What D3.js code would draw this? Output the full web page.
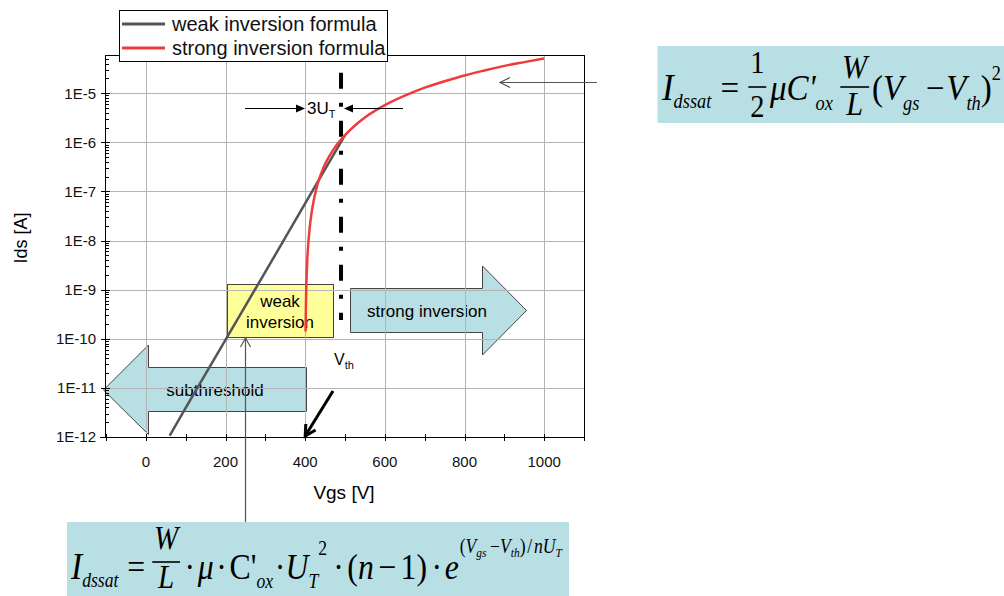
<!DOCTYPE html>
<html>
<head>
<meta charset="utf-8">
<script src="https://cdn.jsdelivr.net/npm/d3@7"></script>
<style>
  body { margin: 0; background: #fff; }
  svg { display: block; }
</style>
</head>
<body>
<svg id="chart" width="1004" height="596"></svg>
<script>
// ---- data -------------------------------------------------------------
// weak inversion (exponential) drain current
const weakVgs = [60, 100, 200, 300, 400, 500];
const weakIds = [1.07e-12, 3.9e-12, 9.5e-11, 2.3e-9, 5.7e-8, 1.4e-6];

// strong inversion (square law) drain current
const strongVgs = [401, 402, 403, 405, 410, 415, 420, 430, 440, 450, 460, 475,
                   500, 525, 550, 600, 650, 700, 750, 800, 850, 900, 950, 1000];
const strongIds = [1.4e-10, 5.7e-10, 1.3e-9, 3.6e-9, 1.4e-8, 3.2e-8, 5.7e-8, 1.3e-7,
                   2.3e-7, 3.6e-7, 5.1e-7, 8.0e-7, 1.4e-6, 2.2e-6, 3.2e-6, 5.7e-6,
                   8.9e-6, 1.3e-5, 1.75e-5, 2.3e-5, 2.9e-5, 3.6e-5, 4.3e-5, 5.1e-5];

const xTicks = [-100, 0, 100, 200, 300, 400, 500, 600, 700, 800, 900, 1000, 1100];
const xTickLabels = [0, 200, 400, 600, 800, 1000];
const yDecades = [1e-12, 1e-11, 1e-10, 1e-9, 1e-8, 1e-7, 1e-6, 1e-5];
const yTickLabels = ["1E-12", "1E-11", "1E-10", "1E-9", "1E-8", "1E-7", "1E-6", "1E-5"];
const vthVgs = 490;                 // threshold voltage marker
const vthSpan = [2.4e-10, 2.6e-5];  // vertical extent of the marker
const legendLabels = ["weak inversion formula", "strong inversion formula"];

// ---- setup ------------------------------------------------------------
const svg = d3.select("#chart");
const SANS = "'Liberation Sans', Arial, sans-serif";
const SERIF = "'Liberation Serif', 'Times New Roman', serif";
const GRAY = "#555555", RED = "#ef3b3b", TEAL = "#b8dfe3", YELLOW = "#ffff99";

const plot = { left: 106, right: 584, top: 55, bottom: 437 };
const x = d3.scaleLinear().domain([-100, 1100]).range([plot.left, plot.right]);
const y = d3.scaleLog().domain([1e-12, 6e-5]).range([plot.bottom, plot.top]);

// ---- region callouts (drawn beneath the grid) ---------------------------
const callouts = svg.append("g");

// weak inversion box
callouts.append("rect")
  .attr("x", 227.5).attr("y", 284.5).attr("width", 106).attr("height", 53)
  .attr("fill", YELLOW).attr("stroke", "#444").attr("stroke-width", 1);
callouts.append("text").attr("x", 280).attr("y", 307).attr("text-anchor", "middle")
  .attr("font-family", SANS).attr("font-size", 17).text("weak");
callouts.append("text").attr("x", 280).attr("y", 328).attr("text-anchor", "middle")
  .attr("font-family", SANS).attr("font-size", 17).text("inversion");

// strong inversion arrow (pointing right)
const strongArrow = [[350.5, 288.5], [482.5, 288.5], [482.5, 266], [526.5, 310.5],
                     [482.5, 355], [482.5, 332.5], [350.5, 332.5]];
callouts.append("path").attr("d", d3.line()(strongArrow) + "Z")
  .attr("fill", TEAL).attr("stroke", "#444").attr("stroke-width", 1);
callouts.append("text").attr("x", 427).attr("y", 317).attr("text-anchor", "middle")
  .attr("font-family", SANS).attr("font-size", 17).text("strong inversion");

// subthreshold arrow (pointing left)
const subArrow = [[306.5, 367.5], [148.5, 367.5], [148.5, 345], [103.5, 390],
                  [148.5, 434.5], [148.5, 411.5], [306.5, 411.5]];
callouts.append("path").attr("d", d3.line()(subArrow) + "Z")
  .attr("fill", TEAL).attr("stroke", "#444").attr("stroke-width", 1);
callouts.append("text").attr("x", 215).attr("y", 396).attr("text-anchor", "middle")
  .attr("font-family", SANS).attr("font-size", 17).text("subthreshold");

// ---- grid ---------------------------------------------------------------
const grid = svg.append("g").attr("stroke", "#b4b4b4").attr("stroke-width", 1);
grid.selectAll(".gx").data(xTickLabels).join("line")
  .attr("x1", d => Math.round(x(d)) + 0.5).attr("x2", d => Math.round(x(d)) + 0.5)
  .attr("y1", plot.top).attr("y2", plot.bottom);
grid.selectAll(".gy").data(yDecades.slice(1)).join("line")
  .attr("x1", plot.left).attr("x2", plot.right)
  .attr("y1", d => Math.round(y(d)) + 0.5).attr("y2", d => Math.round(y(d)) + 0.5);

// ---- axes ---------------------------------------------------------------
const axes = svg.append("g").attr("stroke", "#000").attr("stroke-width", 1);
const bx = plot.bottom + 0.5, lx = plot.left - 0.5;
axes.append("line").attr("x1", plot.left - 6).attr("x2", plot.right).attr("y1", bx).attr("y2", bx);
axes.append("line").attr("x1", lx).attr("x2", lx).attr("y1", plot.top).attr("y2", plot.bottom + 1);
// frame (top and right)
axes.append("line").attr("x1", plot.left).attr("x2", plot.right + 0.5)
  .attr("y1", plot.top + 0.5).attr("y2", plot.top + 0.5);
axes.append("line").attr("x1", plot.right + 0.5).attr("x2", plot.right + 0.5)
  .attr("y1", plot.top).attr("y2", plot.bottom + 4);

// x ticks (crossing the axis)
axes.selectAll(".tx").data(xTicks).join("line")
  .attr("x1", d => Math.round(x(d)) + 0.5).attr("x2", d => Math.round(x(d)) + 0.5)
  .attr("y1", plot.bottom - 3).attr("y2", plot.bottom + 4);
svg.append("g").selectAll("text").data(xTickLabels).join("text")
  .attr("x", d => x(d)).attr("y", 467).attr("text-anchor", "middle")
  .attr("font-family", SANS).attr("font-size", 15).attr("fill", "#111")
  .text(d => d);

// y major ticks (crossing) and minor ticks (inside)
axes.selectAll(".ty").data(yDecades).join("line")
  .attr("x1", plot.left - 5).attr("x2", plot.left + 4)
  .attr("y1", d => Math.round(y(d)) + 0.5).attr("y2", d => Math.round(y(d)) + 0.5);
const minor = [];
yDecades.forEach(dec => { for (let m = 2; m <= 9; m++) { const v = dec * m; if (v <= 6e-5) minor.push(v); } });
axes.selectAll(".tm").data(minor).join("line")
  .attr("x1", plot.left).attr("x2", plot.left + 3)
  .attr("y1", d => Math.round(y(d)) + 0.5).attr("y2", d => Math.round(y(d)) + 0.5);
svg.append("g").selectAll("text").data(yDecades).join("text")
  .attr("x", 96).attr("y", d => y(d)).attr("dy", "0.36em").attr("text-anchor", "end")
  .attr("font-family", SANS).attr("font-size", 15).attr("fill", "#111")
  .text((d, i) => yTickLabels[i]);

// axis titles
svg.append("text").attr("x", 344).attr("y", 499).attr("text-anchor", "middle")
  .attr("font-family", SANS).attr("font-size", 19).text("Vgs [V]");
svg.append("text").attr("transform", "translate(27,238) rotate(-90)").attr("text-anchor", "middle")
  .attr("font-family", SANS).attr("font-size", 18).text("Ids [A]");

// ---- threshold marker (dash-dot) --------------------------------------------
svg.append("line")
  .attr("x1", x(vthVgs)).attr("x2", x(vthVgs))
  .attr("y1", y(vthSpan[1])).attr("y2", y(vthSpan[0]))
  .attr("stroke", "#000").attr("stroke-width", 4)
  .attr("stroke-dasharray", "16,14,4,14");

// ---- curves -------------------------------------------------------------
const line = d3.line().x(d => x(d[0])).y(d => y(d[1]));
svg.append("path").datum(d3.zip(weakVgs, weakIds))
  .attr("d", line).attr("fill", "none").attr("stroke", GRAY).attr("stroke-width", 2.5);
svg.append("path").datum(d3.zip(strongVgs, strongIds))
  .attr("d", line.curve(d3.curveMonotoneX)).attr("fill", "none")
  .attr("stroke", RED).attr("stroke-width", 2.5);

// ---- annotations ----------------------------------------------------------
const ann = svg.append("g");
function filledHead(tipX, tipY, dir) {
  ann.append("path")
    .attr("d", `M${tipX},${tipY} L${tipX - dir * 9},${tipY - 4} L${tipX - dir * 9},${tipY + 4} Z`)
    .attr("fill", "#000");
}
// 3 U_T spacing arrows
ann.append("line").attr("x1", 245).attr("x2", 300).attr("y1", 108.5).attr("y2", 108.5)
  .attr("stroke", "#000").attr("stroke-width", 1);
filledHead(305, 108.5, 1);
ann.append("line").attr("x1", 350).attr("x2", 403).attr("y1", 108.5).attr("y2", 108.5)
  .attr("stroke", "#000").attr("stroke-width", 1);
filledHead(344, 108.5, -1);
const ut = ann.append("text").attr("x", 307).attr("y", 114)
  .attr("font-family", SANS).attr("font-size", 17);
ut.append("tspan").text("3U");
ut.append("tspan").attr("font-size", 11).attr("dy", 4).text("T");

// V_th label
const vl = ann.append("text").attr("x", 334).attr("y", 365)
  .attr("font-family", SANS).attr("font-size", 16);
vl.append("tspan").text("V");
vl.append("tspan").attr("font-size", 11).attr("dy", 4).text("th");

// bold arrow pointing at the threshold on the Vgs axis
{
  const tx = x(400), ty = y(1e-12) - 1, sx = 333, sy = 391;
  const a = Math.atan2(ty - sy, tx - sx), L = 12;
  ann.append("line").attr("x1", sx).attr("y1", sy).attr("x2", tx).attr("y2", ty)
    .attr("stroke", "#000").attr("stroke-width", 3);
  ann.append("path")
    .attr("d", `M${tx - L * Math.cos(a - 0.5)},${ty - L * Math.sin(a - 0.5)} L${tx},${ty} L${tx - L * Math.cos(a + 0.5)},${ty - L * Math.sin(a + 0.5)}`)
    .attr("fill", "none").attr("stroke", "#000").attr("stroke-width", 3);
}

// pointer from the weak inversion formula up to the box
ann.append("line").attr("x1", 245.5).attr("x2", 245.5).attr("y1", 338).attr("y2", 522)
  .attr("stroke", GRAY).attr("stroke-width", 1.2);
ann.append("path").attr("d", "M240.5,347 L245.5,338 L250.5,347")
  .attr("fill", "none").attr("stroke", GRAY).attr("stroke-width", 1.2);

// pointer from the strong inversion formula to the curve
ann.append("line").attr("x1", 500).attr("x2", 597).attr("y1", 82.5).attr("y2", 82.5)
  .attr("stroke", GRAY).attr("stroke-width", 1.2);
ann.append("path").attr("d", "M510,77.5 L500,82.5 L510,87.5")
  .attr("fill", "none").attr("stroke", GRAY).attr("stroke-width", 1.2);

// ---- formulas -----------------------------------------------------------
function formula(g, items, x0, x1, base) {
  const inner = g.append("g");
  let cx = x0;
  const styled = (sel, it) => sel.attr("font-family", SERIF).attr("font-size", it.size)
    .attr("font-style", it.it ? "italic" : "normal").attr("fill", "#000");
  for (const it of items) {
    cx += it.gap || 0;
    if (it.num !== undefined) {
      const n = styled(inner.append("text"), it).attr("text-anchor", "middle")
        .attr("y", base + it.numDy).text(it.num);
      const d = styled(inner.append("text"), it).attr("text-anchor", "middle")
        .attr("y", base + it.denDy).text(it.den);
      const w = Math.max(n.node().getComputedTextLength(), d.node().getComputedTextLength()) + 2 * it.pad;
      n.attr("x", cx + w / 2); d.attr("x", cx + w / 2);
      inner.append("line").attr("x1", cx).attr("x2", cx + w)
        .attr("y1", base + it.barDy).attr("y2", base + it.barDy)
        .attr("stroke", "#000").attr("stroke-width", 1.6);
      cx += w;
    } else {
      const t = styled(inner.append("text"), it).attr("x", cx).attr("y", base + (it.dy || 0)).text(it.t);
      cx += t.node().getComputedTextLength();
    }
  }
  const sx = (x1 - x0) / (cx - x0);
  inner.attr("transform", `translate(${x0},0) scale(${sx},1) translate(${-x0},0)`);
}

// strong inversion: I = 1/2 μC'ox W/L (Vgs − Vth)^2
const fTop = svg.append("g");
fTop.append("rect").attr("x", 657.5).attr("y", 46).attr("width", 347).attr("height", 77).attr("fill", TEAL);
formula(fTop, [
  { t: "I", size: 38, it: true },
  { t: "dssat", size: 20, it: true, dy: 8 },
  { t: "=", size: 36, gap: 10 },
  { num: "1", den: "2", size: 31, pad: 2, numDy: -27, denDy: 17, barDy: -13, gap: 10 },
  { t: "\u03BCC'", size: 36, it: true, gap: 4 },
  { t: "ox", size: 20, it: true, dy: 10 },
  { num: "W", den: "L", size: 33, it: true, pad: 2, numDy: -22, denDy: 15, barDy: -13, gap: 8 },
  { t: "(", size: 36, gap: 3 },
  { t: "V", size: 36, it: true },
  { t: "gs", size: 20, it: true, dy: 10 },
  { t: "\u2212", size: 36, gap: 7 },
  { t: "V", size: 36, it: true, gap: 2 },
  { t: "th", size: 20, it: true, dy: 10 },
  { t: ")", size: 36 },
  { t: "2", size: 20, dy: -20 }
], 662, 1001, 100);

// weak inversion: I = W/L · μ · C'ox · UT^2 · (n−1) · e^((Vgs−Vth)/nUT)
const fBot = svg.append("g");
fBot.append("rect").attr("x", 67).attr("y", 522).attr("width", 502).attr("height", 74).attr("fill", TEAL);
formula(fBot, [
  { t: "I", size: 38, it: true },
  { t: "dssat", size: 20, it: true, dy: 8 },
  { t: "=", size: 36, gap: 10 },
  { num: "W", den: "L", size: 33, it: true, pad: 2, numDy: -30, denDy: 9, barDy: -17, gap: 8 },
  { t: "\u00B7", size: 36, gap: 5 },
  { t: "\u03BC", size: 36, it: true, gap: 3 },
  { t: "\u00B7", size: 36, gap: 3 },
  { t: "C'", size: 36, gap: 3 },
  { t: "ox", size: 20, it: true, dy: 9 },
  { t: "\u00B7", size: 36, gap: 2 },
  { t: "U", size: 36, it: true },
  { t: "T", size: 20, it: true, dy: 9 },
  { t: "2", size: 20, dy: -24 },
  { t: "\u00B7", size: 36, gap: 7 },
  { t: "(", size: 36, gap: 4 },
  { t: "n", size: 36, it: true },
  { t: "\u2212", size: 36, gap: 5 },
  { t: "1", size: 36, gap: 5 },
  { t: ")", size: 36 },
  { t: "\u00B7", size: 36, gap: 5 },
  { t: "e", size: 36, it: true, gap: 3 },
  { t: "(", size: 20, dy: -26, gap: 1 },
  { t: "V", size: 20, it: true, dy: -26 },
  { t: "gs", size: 13, it: true, dy: -22 },
  { t: "\u2212", size: 20, dy: -26, gap: 4 },
  { t: "V", size: 20, it: true, dy: -26 },
  { t: "th", size: 13, it: true, dy: -22 },
  { t: ")", size: 20, dy: -26 },
  { t: "/", size: 20, dy: -26, gap: 2 },
  { t: "nU", size: 20, it: true, dy: -26, gap: 2 },
  { t: "T", size: 13, it: true, dy: -22 }
], 71, 562, 579);

// ---- legend ---------------------------------------------------------------
const legend = svg.append("g");
legend.append("rect").attr("x", 119.5).attr("y", 10.5).attr("width", 268).attr("height", 51)
  .attr("fill", "#fff").attr("stroke", "#000").attr("stroke-width", 1);
[GRAY, RED].forEach((c, i) => {
  const ly = 24 + i * 24;
  legend.append("line").attr("x1", 122).attr("x2", 165).attr("y1", ly).attr("y2", ly)
    .attr("stroke", c).attr("stroke-width", 3);
  legend.append("text").attr("x", 172).attr("y", ly + 7)
    .attr("font-family", SANS).attr("font-size", 20).attr("fill", "#111")
    .text(legendLabels[i]);
});
</script>
</body>
</html>
